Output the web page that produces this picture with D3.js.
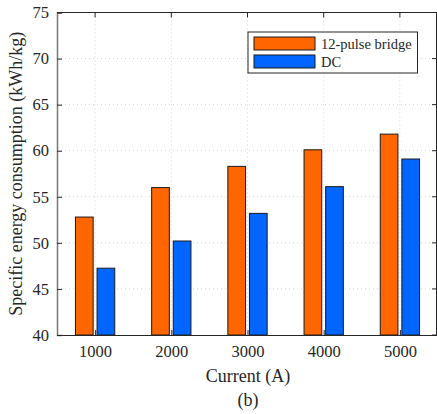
<!DOCTYPE html>
<html>
<head>
<meta charset="utf-8">
<script src="https://cdn.jsdelivr.net/npm/d3@7"></script>
<style>
  body { margin: 0; background: #fff; }
  text { font-family: "Liberation Serif", "Times New Roman", serif; fill: #262626; }
</style>
</head>
<body>
<svg id="chart" width="437" height="414"></svg>
<script>
var currents = [1000, 2000, 3000, 4000, 5000];
var seriesNames = ["12-pulse bridge", "DC"];
var bridgeValues = [52.8, 56.0, 58.3, 60.1, 61.8];
var dcValues = [47.25, 50.2, 53.2, 56.1, 59.1];
var yTicks = [40, 45, 50, 55, 60, 65, 70, 75];
var colors = ["#ff6600", "#0066ff"];

var svg = d3.select("#chart");
var margin = { left: 57, top: 12.5, right: 0, bottom: 79 };
var width = 437 - margin.left - margin.right,
    height = 414 - margin.top - margin.bottom;

var g = svg.append("g").attr("transform", "translate(" + margin.left + "," + margin.top + ")");

var x = d3.scaleLinear().domain([500, 5500]).range([0, width + 1]);
var y = d3.scaleLinear().domain([40, 75]).range([height, 0]);

// dotted grid
g.selectAll(".hgrid").data(yTicks.slice(1, -1)).enter().append("line")
    .attr("x1", 0).attr("x2", width)
    .attr("y1", function(d) { return y(d); }).attr("y2", function(d) { return y(d); })
    .attr("stroke", "#d4d4d4").attr("stroke-dasharray", "1,3");
g.selectAll(".vgrid").data(currents).enter().append("line")
    .attr("x1", function(d) { return x(d); }).attr("x2", function(d) { return x(d); })
    .attr("y1", 0).attr("y2", height)
    .attr("stroke", "#d4d4d4").attr("stroke-dasharray", "1,3");

var barW = 17.7, offset = 10.8;
var data = currents.map(function(c, i) { return { c: c, vals: [bridgeValues[i], dcValues[i]] }; });

var grp = g.selectAll(".grp").data(data).enter().append("g");
grp.selectAll("rect").data(function(d) {
    return d.vals.map(function(v, k) { return { c: d.c, v: v, k: k }; });
}).enter().append("rect")
    .attr("x", function(d) { return x(d.c) + (d.k === 0 ? -offset : offset) - barW / 2; })
    .attr("y", function(d) { return y(d.v); })
    .attr("width", barW)
    .attr("height", function(d) { return y(40) - y(d.v); })
    .attr("fill", function(d) { return colors[d.k]; })
    .attr("stroke", "#1a1a1a").attr("stroke-width", 1);

// axes
var xAxis = d3.axisBottom(x).tickValues(currents).tickSize(-5).tickPadding(10).tickFormat(d3.format("d"));
var yAxis = d3.axisLeft(y).tickValues(yTicks).tickSize(-5).tickPadding(8);

var xa = g.append("g").attr("transform", "translate(0," + height + ")").call(xAxis);
var ya = g.append("g").call(yAxis);
[xa, ya].forEach(function(a) {
    a.select(".domain").attr("stroke", "#262626");
    a.selectAll(".tick line").attr("stroke", "#262626");
    a.selectAll("text").style("font-size", "16.5px").attr("fill", "#262626");
});
ya.select(".domain").attr("stroke", "#777").attr("stroke-width", 1.5);

// top and right box
g.append("line").attr("x1", 0).attr("x2", width).attr("y1", 0).attr("y2", 0).attr("stroke", "#262626");
g.selectAll(".ttick").data(currents).enter().append("line")
    .attr("x1", function(d) { return x(d); }).attr("x2", function(d) { return x(d); })
    .attr("y1", 0).attr("y2", 5).attr("stroke", "#262626");
g.append("line").attr("x1", width - 0.5).attr("x2", width - 0.5).attr("y1", 0).attr("y2", height).attr("stroke", "#262626");
g.selectAll(".rtick").data(yTicks).enter().append("line")
    .attr("x1", width - 5).attr("x2", width)
    .attr("y1", function(d) { return y(d); }).attr("y2", function(d) { return y(d); })
    .attr("stroke", "#262626");

// labels
svg.append("text")
    .attr("transform", "translate(22," + (margin.top + height / 2) + ") rotate(-90)")
    .attr("text-anchor", "middle")
    .style("font-size", "18px")
    .text("Specific energy consumption (kWh/kg)");
svg.append("text")
    .attr("x", margin.left + width / 2 + 1).attr("y", 382)
    .attr("text-anchor", "middle").style("font-size", "18px")
    .text("Current (A)");
svg.append("text")
    .attr("x", margin.left + width / 2 + 1).attr("y", 406)
    .attr("text-anchor", "middle").style("font-size", "18px")
    .text("(b)");

// legend
var leg = svg.append("g").attr("transform", "translate(248,32)");
leg.append("rect").attr("width", 169.5).attr("height", 41)
    .attr("fill", "#fff").attr("stroke", "#262626");
var items = leg.selectAll(".item").data(seriesNames).enter().append("g")
    .attr("transform", function(d, i) { return "translate(6," + (5 + i * 18) + ")"; });
items.append("rect").attr("width", 61).attr("height", 13)
    .attr("fill", function(d, i) { return colors[i]; })
    .attr("stroke", "#1a1a1a");
items.append("text").attr("x", 67).attr("y", 11.5)
    .style("font-size", "14.5px").text(function(d) { return d; });
</script>
</body>
</html>
